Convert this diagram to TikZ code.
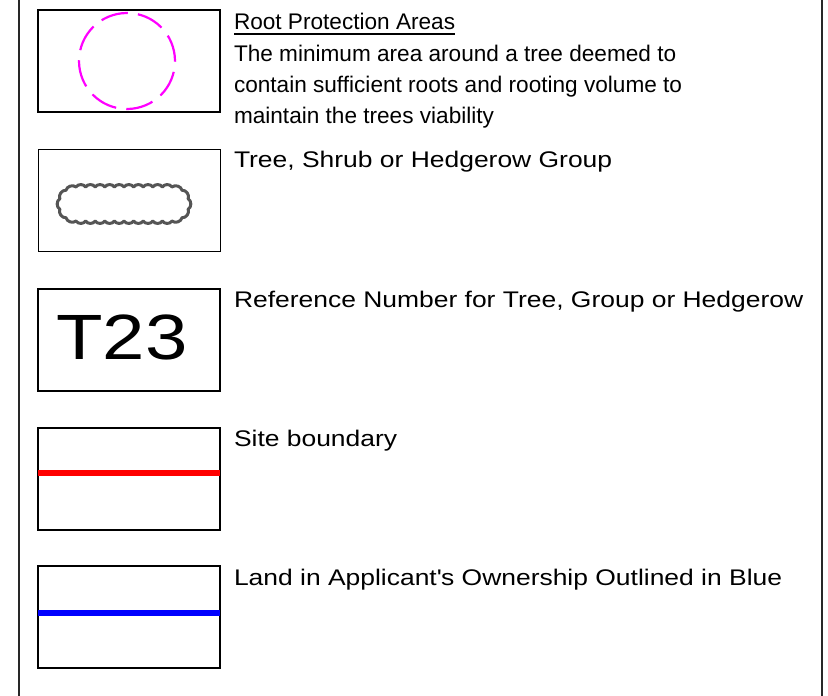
\documentclass[tikz,border=0pt]{standalone}
\usepackage{fontspec}
\setmainfont{Liberation Sans}
\newfontfamily\widefont{Liberation Sans}[FakeStretch=1.17]
\newfontfamily\bigfont{Liberation Sans}[FakeStretch=1.19]
\definecolor{rpa}{RGB}{255,0,255}
\definecolor{cloudgray}{RGB}{85,85,85}
\definecolor{framegray}{RGB}{40,40,40}
\begin{document}
\begin{tikzpicture}[x=1pt,y=-1pt,
  legbox/.style={draw=black,line width=1.5pt,minimum width=182pt,minimum height=102pt,inner sep=0pt,outer sep=0pt},
  legtext/.style={anchor=base west,inner sep=0pt,outer sep=0pt,font=\fontsize{22.6}{31}\selectfont},
  widetext/.style={legtext,font=\widefont\fontsize{22.6}{31}\selectfont},
  frameline/.style={draw=framegray,line width=1.6pt},
  cloudline/.style={draw=cloudgray,line width=3pt,line join=round}]
\useasboundingbox (0,0) rectangle (828,696);
% outer frame sides
\coordinate (lt) at (19,0);
\coordinate (lb) at (19,696);
\coordinate (rt) at (822,0);
\coordinate (rb) at (822,696);
\draw[frameline] (lt) -- (lb);
\draw[frameline] (rt) -- (rb);
% boxes
\node[legbox] (b1) at (129,61) {};
\node[legbox] (b2) at (129.5,200.5) {};
\node[legbox] (b3) at (129,340) {};
\node[legbox] (b4) at (129,479) {};
\node[legbox] (b5) at (129,617) {};
% root protection area symbol
\node[draw=rpa,circle,line width=2.2pt,dash pattern=on 27.5pt off 10.2pt,dash phase=0.8pt,minimum size=96pt,inner sep=0pt] (rpa) at (127,61) {};
% group symbol (scalloped outline)
\draw[cloudline] (76,187)
  foreach \i in {1,...,10} { to[bend left=60] ({76+9.6*\i},187) }
  foreach \a in {54,18,-18,-54,-90} { to[bend left=60] ({172+17*cos(\a)},{204-17*sin(\a)}) }
  foreach \i in {1,...,10} { to[bend left=60] ({172-9.6*\i},221) }
  foreach \a in {234,198,162,126,90} { to[bend left=60] ({76+17*cos(\a)},{204-17*sin(\a)}) }
  -- cycle;
% reference number
\node[inner sep=0pt,outer sep=0pt,anchor=base,font=\bigfont\fontsize{64}{64}\selectfont] (ref) at (122,359.3) {T23};
% lines
\draw[red,line width=6pt] ([yshift=5.7pt]b4.west) -- ([yshift=5.7pt]b4.east);
\draw[blue,line width=6pt] ([yshift=4pt]b5.west) -- ([yshift=4pt]b5.east);
% texts
\node[legtext] (t1) at (234,29.5) {Root Protection Areas};
\draw[line width=1.5pt] ([yshift=-4.3pt]t1.base west) -- ([yshift=-4.3pt]t1.base east);
\node[legtext] (t1a) at (234,61) {The minimum area around a tree deemed to};
\node[legtext] (t1b) at (234,92) {contain sufficient roots and rooting volume to};
\node[legtext] (t1c) at (234,123) {maintain the trees viability};
\node[widetext] (t2) at (234,167.3) {Tree, Shrub or Hedgerow Group};
\node[widetext] (t3) at (234,307) {Reference Number for Tree, Group or Hedgerow};
\node[widetext] (t4) at (234,446.7) {Site boundary};
\node[widetext] (t5) at (234,585) {Land in Applicant\textquotesingle s Ownership Outlined in Blue};
\end{tikzpicture}
\end{document}
